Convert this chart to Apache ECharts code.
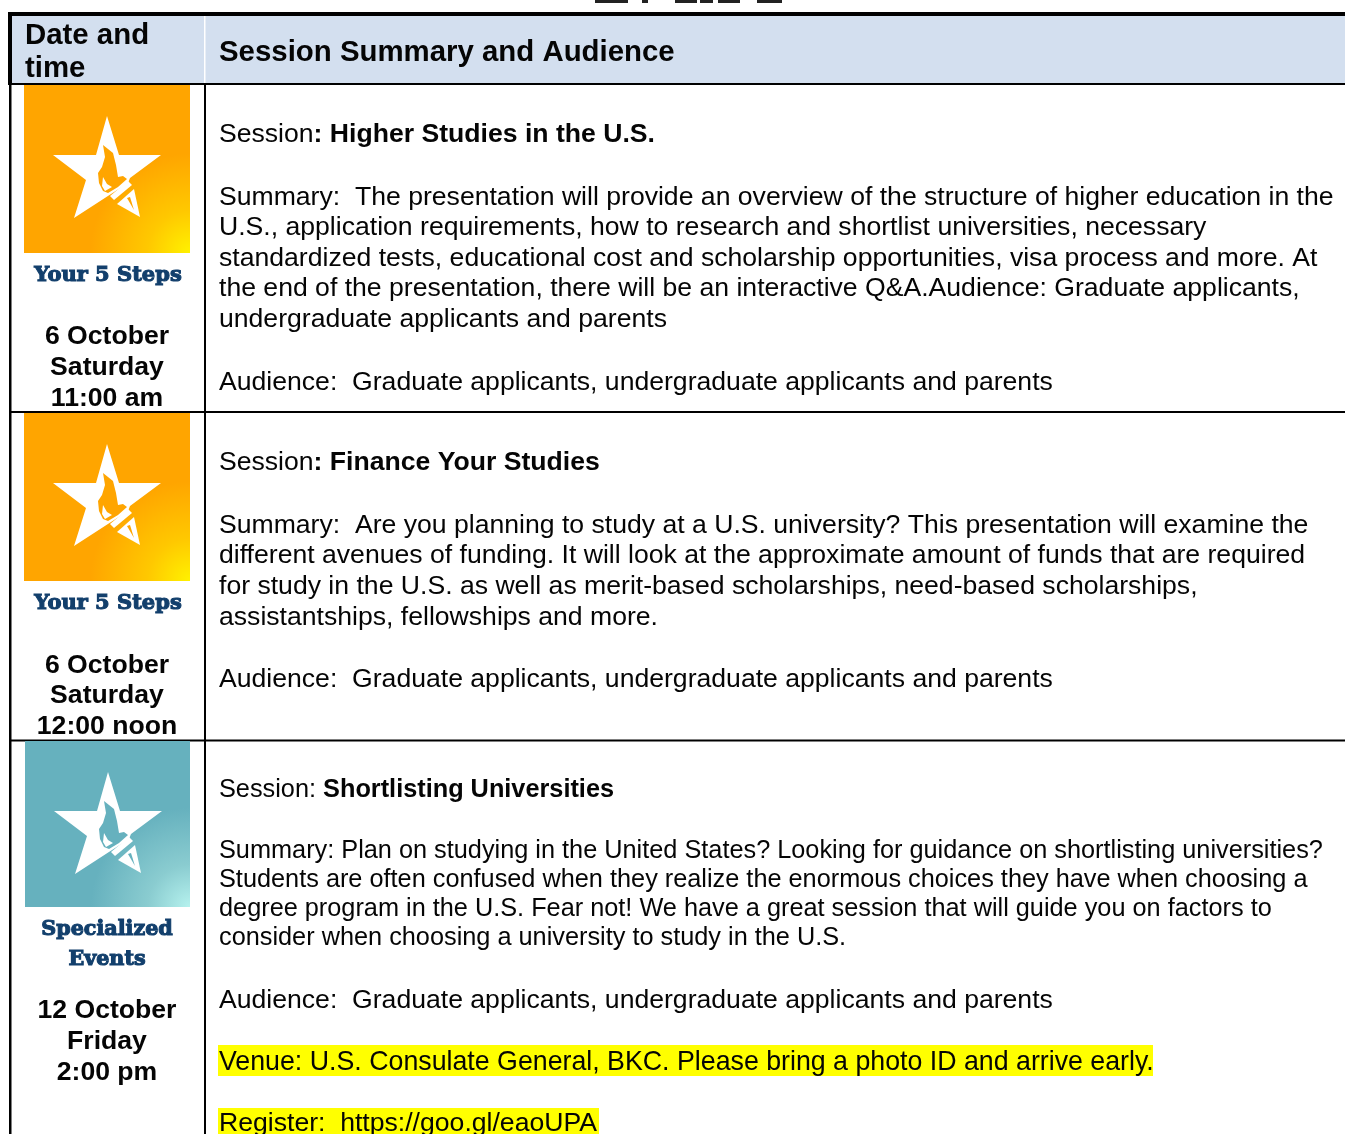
<!DOCTYPE html>
<html><head><meta charset="utf-8">
<style>html,body{margin:0;padding:0;background:#fff;overflow:hidden}#c{width:1345px;height:1134px}</style>
<script src="https://cdn.jsdelivr.net/npm/echarts@6/dist/echarts.min.js"></script></head>
<body><div id="c"></div>
<script>
const headerDate = ['Date and', 'time'];
const headerSession = 'Session Summary and Audience';
const sessionPrefix = ['Session', 'Session', 'Session: '];
const sessionTitles = [': Higher Studies in the U.S.', ': Finance Your Studies', 'Shortlisting Universities'];
const summary1 = [
 'Summary:  The presentation will provide an overview of the structure of higher education in the',
 'U.S., application requirements, how to research and shortlist universities, necessary',
 'standardized tests, educational cost and scholarship opportunities, visa process and more. At',
 'the end of the presentation, there will be an interactive Q&A.Audience: Graduate applicants,',
 'undergraduate applicants and parents'];
const summary2 = [
 'Summary:  Are you planning to study at a U.S. university? This presentation will examine the',
 'different avenues of funding. It will look at the approximate amount of funds that are required',
 'for study in the U.S. as well as merit-based scholarships, need-based scholarships,',
 'assistantships, fellowships and more.'];
const summary3 = [
 'Summary: Plan on studying in the United States? Looking for guidance on shortlisting universities?',
 'Students are often confused when they realize the enormous choices they have when choosing a',
 'degree program in the U.S. Fear not! We have a great session that will guide you on factors to',
 'consider when choosing a university to study in the U.S.'];
const audience = 'Audience:  Graduate applicants, undergraduate applicants and parents';
const venue = 'Venue: U.S. Consulate General, BKC. Please bring a photo ID and arrive early.';
const register = 'Register:  https://goo.gl/eaoUPA';
const dates1 = ['6 October', 'Saturday', '11:00 am'];
const dates2 = ['6 October', 'Saturday', '12:00 noon'];
const dates3 = ['12 October', 'Friday', '2:00 pm'];

const chart = echarts.init(document.getElementById('c'), null, {renderer: 'canvas'});
const FONT = '"Liberation Sans", Arial, sans-serif';
const DY = 2;
const els = [];
const rect = (x, y, w, h, fill) => els.push({type: 'rect', silent: true, shape: {x, y, width: w, height: h}, style: {fill}});
const text = (x, y, t, size, weight, align) => els.push({type: 'text', silent: true, x, y: y + DY, style: {text: t, fill: '#050505', font: `${weight || 'normal'} ${size}px ${FONT}`, textAlign: align || 'left', textVerticalAlign: 'middle'}});

function logo(ox, oy, w, h, base, mid, tip) {
  els.push({type: 'rect', silent: true, shape: {x: ox, y: oy, width: w, height: h},
    style: {fill: {type: 'radial', x: 1, y: 1, r: 0.8, colorStops: [{offset: 0, color: tip}, {offset: 0.32, color: mid}, {offset: 0.75, color: base}, {offset: 1, color: base}]}}});
  const g = {type: 'group', x: ox, y: oy, silent: true, children: []};
  const poly = (pts, fill) => g.children.push({type: 'polygon', shape: {points: pts}, style: {fill}});
  // star body, cut along the diagonal that carries the torch
  poly([[83,31],[95,70],[137,70],[106,93],[104,98],[50,133],[62,95],[29,70],[72,70]], '#fff');
  // flame
  poly([[79,60],[89,68],[92,80],[94,92],[99,91],[103,94],[94,102],[84,108],[79,106],[75,98],[74,88],[78,82],[81,72]], base);
  poly([[79,92],[83,99],[88,102],[81,106],[78,101]], '#fff');
  // torch
  poly([[86,111],[104,96],[108,100],[90,115]], '#fff');
  poly([[93,119],[110,104],[116,132]], '#fff');
  poly([[103,113],[106,112],[110,125]], base);
  els.push(g);
}
function slab(x, y, t, size) {
  els.push({type: 'text', silent: true, x, y: y + DY, style: {text: t, fill: '#123f6c', stroke: '#123f6c', lineWidth: 1.1, font: `bold ${size}px "DejaVu Serif", serif`, textAlign: 'center', textVerticalAlign: 'middle'}});
}

// title fragment
rect(584, 0, 208, 12, '#fff');
[[595, 33], [642, 6], [675, 22], [700, 13], [718, 22], [757, 25]].forEach(([x, w]) => rect(x, 0, w, 3, '#222'));

// header
rect(12, 16, 1333, 67, '#d3dfef');
rect(204, 16, 1.5, 67, '#fff');
rect(8, 12, 1337, 4, '#000');
rect(8, 12, 4, 72, '#000');
rect(8, 83, 1337, 2, '#000');
// grid
rect(9, 84, 2.5, 1050, '#000');
rect(204, 84, 2, 1050, '#000');
rect(9, 411, 1336, 2, '#000');
rect(9, 739.5, 1336, 2, '#000');

// logos
logo(24, 85, 166, 168, '#ffa500', '#ffc800', '#fff200');
logo(24, 413, 166, 168, '#ffa500', '#ffc800', '#fff200');
logo(25, 741, 165, 166, '#66b1be', '#8accd0', '#b6f2ee');
slab(108, 274, 'Your 5 Steps', 21);
slab(108, 602, 'Your 5 Steps', 21);
slab(107, 928, 'Specialized', 20.7);
slab(107, 958, 'Events', 20.7);

// header text
text(25, 34, headerDate[0], 29.4, 'bold');
text(25, 67, headerDate[1], 29.4, 'bold');
text(219, 51, headerSession, 29.4, 'bold');

// date cells
const S = 26.6, S3 = 25.3;
[[dates1, [335, 366, 397]], [dates2, [664, 694, 725]], [dates3, [1009, 1040, 1071]]].forEach(([d, ys]) =>
  d.forEach((t, i) => text(107, ys[i], t, S, 'bold', 'center')));

// session titles
[133, 461, 788].forEach((y, i) => {
  const s = i < 2 ? S : S3;
  els.push({type: 'text', silent: true, x: 219, y: y + DY, style: {
    text: `{n|${sessionPrefix[i]}}{b|${sessionTitles[i]}}`, textAlign: 'left', textVerticalAlign: 'middle',
    rich: {n: {font: `normal ${s}px ${FONT}`, fill: '#050505'}, b: {font: `bold ${s}px ${FONT}`, fill: '#050505'}}}});
});

summary1.forEach((t, i) => text(219, [196, 226, 257, 287, 318][i], t, S));
text(219, 381, audience, S);
summary2.forEach((t, i) => text(219, [524, 554, 585, 616][i], t, S));
text(219, 678, audience, S);
summary3.forEach((t, i) => text(219, [849, 878, 907, 936][i], t, S3));
text(219, 999, audience, S);

rect(218, 1045, 935, 31, '#ffff00');
rect(218, 1108, 381, 26, '#ffff00');
text(219, 1061, venue, 26.75);
text(219, 1122, register, S);

chart.setOption({animation: false, backgroundColor: '#fff', graphic: {elements: els}});
</script></body></html>
